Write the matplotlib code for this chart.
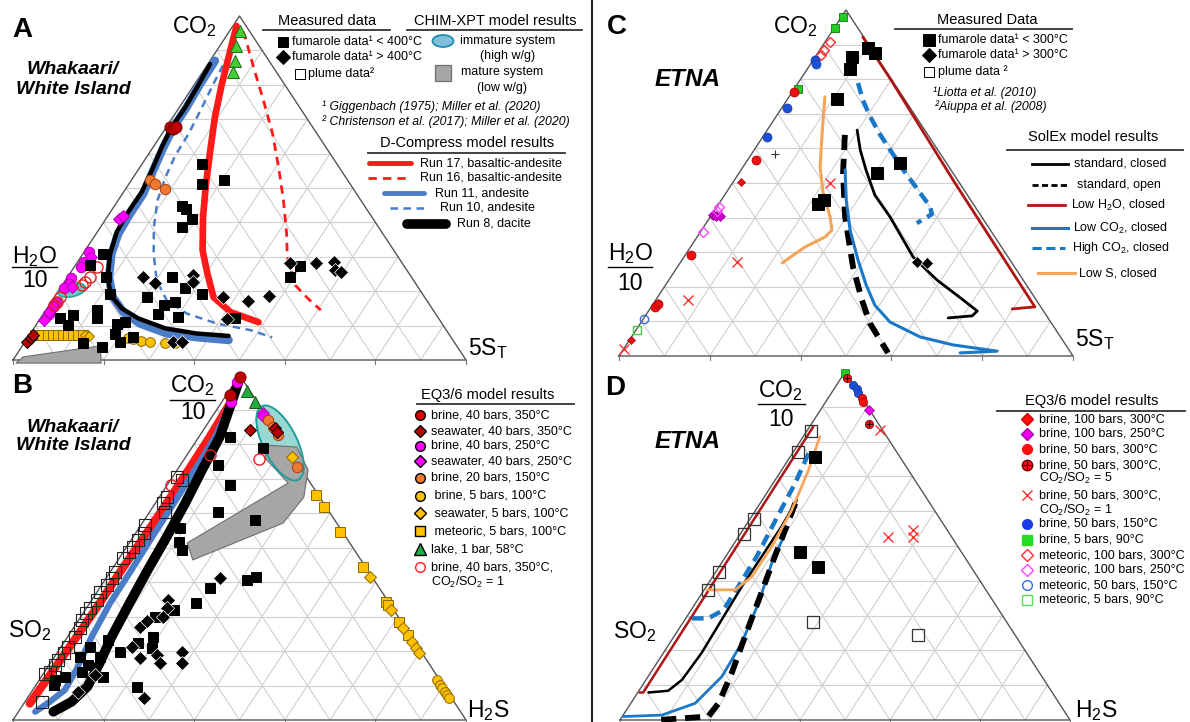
import numpy as np
import matplotlib.pyplot as plt
from matplotlib.patches import Polygon, Rectangle, Ellipse

plt.rcParams['font.family'] = ['Liberation Sans', 'DejaVu Sans']
plt.rcParams['mathtext.fontset'] = 'custom'
plt.rcParams['mathtext.rm'] = 'Liberation Sans'
plt.rcParams['mathtext.it'] = 'Liberation Sans:italic'
plt.rcParams['mathtext.bf'] = 'Liberation Sans:bold'
plt.rcParams['mathtext.default'] = 'regular'

# ---------- data: (top fraction, right fraction) ----------
# panel A: CO2 / (H2O/10) / 5ST
a_run17 = [(0.971, 0.008), (0.899, 0.030), (0.802, 0.060), (0.705, 0.093), (0.609, 0.131), (0.512, 0.170),
           (0.415, 0.212), (0.319, 0.259), (0.252, 0.303), (0.183, 0.351), (0.139, 0.411), (0.110, 0.487)]
a_run16 = [(0.955, 0.030), (0.936, 0.045), (0.849, 0.107), (0.754, 0.176), (0.658, 0.244), (0.559, 0.307),
           (0.464, 0.365), (0.368, 0.420), (0.299, 0.456), (0.217, 0.515), (0.180, 0.560), (0.145, 0.607)]
a_run11 = [(0.870, 0.011), (0.802, 0.012), (0.734, 0.016), (0.676, 0.016), (0.618, 0.023), (0.551, 0.034),
           (0.483, 0.046), (0.425, 0.046), (0.367, 0.049), (0.309, 0.063), (0.242, 0.091), (0.184, 0.128),
           (0.140, 0.173), (0.106, 0.227), (0.077, 0.301), (0.066, 0.373), (0.058, 0.447)]
a_run10 = [(0.923, 0.029), (0.879, 0.033), (0.812, 0.040), (0.734, 0.050), (0.657, 0.059), (0.594, 0.061),
           (0.531, 0.071), (0.464, 0.087), (0.386, 0.118), (0.309, 0.156), (0.232, 0.201), (0.174, 0.252),
           (0.135, 0.316), (0.106, 0.397), (0.087, 0.480), (0.066, 0.539)]
a_run8 = [(0.860, 0.005), (0.792, 0.010), (0.734, 0.013), (0.676, 0.012), (0.618, 0.019), (0.551, 0.031),
          (0.488, 0.040), (0.430, 0.039), (0.372, 0.043), (0.309, 0.060), (0.242, 0.088), (0.188, 0.122),
          (0.150, 0.165), (0.121, 0.216), (0.092, 0.290), (0.077, 0.367), (0.070, 0.441)]
a_fum_lo = [(0.570, 0.132), (0.512, 0.161), (0.522, 0.204), (0.449, 0.148), (0.440, 0.163), (0.411, 0.189),
            (0.386, 0.179), (0.309, 0.045), (0.275, 0.033), (0.242, 0.085), (0.242, 0.229), (0.193, 0.118),
            (0.208, 0.276), (0.193, 0.320), (0.184, 0.203), (0.159, 0.253), (0.169, 0.274), (0.135, 0.253),
            (0.126, 0.302), (0.145, 0.112), (0.121, 0.124), (0.130, 0.068), (0.121, 0.043), (0.101, 0.071),
            (0.106, 0.176), (0.111, 0.192), (0.077, 0.187), (0.068, 0.231), (0.053, 0.210), (0.048, 0.131),
            (0.039, 0.176), (0.121, 0.430), (0.241, 0.492), (0.272, 0.497)]
a_fum_hi = [(0.241, 0.167), (0.223, 0.203), (0.246, 0.275), (0.226, 0.285), (0.183, 0.371), (0.171, 0.434),
            (0.186, 0.473), (0.119, 0.414), (0.281, 0.472), (0.281, 0.528), (0.284, 0.566), (0.261, 0.580),
            (0.255, 0.596), (0.052, 0.328), (0.052, 0.348)]
a_lake = [(0.957, 0.022), (0.913, 0.036), (0.870, 0.054), (0.836, 0.067)]
a_brine350 = [(0.676, 0.009), (0.671, 0.018), (0.676, 0.022)]
a_brine150 = [(0.522, 0.041), (0.512, 0.057), (0.498, 0.087)]
a_brine250 = [(0.314, 0.010), (0.285, 0.014), (0.271, 0.014), (0.237, 0.010), (0.222, 0.012), (0.208, 0.009),
              (0.169, 0.010), (0.155, 0.010), (0.135, 0.011)]
a_sea250 = [(0.411, 0.029), (0.420, 0.033), (0.300, 0.023), (0.213, 0.023), (0.116, 0.010), (0.140, 0.010)]
a_brine350_r1 = [(0.271, 0.049), (0.242, 0.049), (0.227, 0.045), (0.217, 0.043), (0.184, 0.012),
                 (0.169, 0.012), (0.159, 0.012)]
a_sea350 = [(0.052, 0.006), (0.064, 0.007), (0.072, 0.009)]
a_meteoric100 = [(0.072, 0.013), (0.072, 0.028), (0.072, 0.041), (0.072, 0.052), (0.072, 0.064), (0.072, 0.075),
                 (0.072, 0.086), (0.072, 0.097), (0.072, 0.108), (0.072, 0.119)]
a_sea100 = [(0.072, 0.123), (0.070, 0.133)]
a_brine100 = [(0.064, 0.222), (0.061, 0.234), (0.055, 0.254), (0.052, 0.277), (0.049, 0.312), (0.049, 0.334)]
a_immature = (0.203, 0.028)
a_mature = [(-0.009, 0.011), (0.009, 0.018), (0.041, 0.172), (-0.009, 0.199)]

# panel B: CO2/10 / SO2 / H2S
b_run17 = [(0.995, 0.003), (0.918, 0.020), (0.821, 0.024), (0.725, 0.025), (0.628, 0.025), (0.531, 0.024),
           (0.435, 0.022), (0.338, 0.022), (0.242, 0.020), (0.145, 0.017), (0.048, 0.013)]
b_run11 = [(0.947, 0.017), (0.821, 0.036), (0.725, 0.039), (0.628, 0.041), (0.531, 0.042), (0.435, 0.044),
           (0.338, 0.045), (0.242, 0.053), (0.145, 0.067), (0.087, 0.071), (0.053, 0.055), (0.024, 0.037)]
b_run8 = [(0.976, 0.009), (0.821, 0.046), (0.725, 0.055), (0.628, 0.066), (0.531, 0.074), (0.435, 0.080),
          (0.338, 0.088), (0.242, 0.097), (0.164, 0.109), (0.097, 0.116), (0.053, 0.103), (0.024, 0.077)]
b_plume = [(0.705, 0.009), (0.696, 0.024), (0.647, 0.016), (0.628, 0.018), (0.604, 0.034), (0.565, 0.009),
           (0.541, 0.018), (0.522, 0.016), (0.502, 0.015), (0.488, 0.011), (0.469, 0.009), (0.430, 0.010),
           (0.411, 0.013), (0.391, 0.011), (0.372, 0.006), (0.348, 0.011), (0.324, 0.008), (0.309, 0.007),
           (0.290, 0.007), (0.266, 0.015), (0.242, 0.016), (0.213, 0.016), (0.193, 0.015), (0.174, 0.013),
           (0.159, 0.013), (0.140, 0.012), (0.133, 0.004), (0.053, 0.037)]
b_fum_lo = [(0.821, 0.069), (0.787, 0.159), (0.739, 0.084), (0.681, 0.139), (0.604, 0.151), (0.556, 0.091),
            (0.517, 0.107), (0.493, 0.126), (0.580, 0.244), (0.406, 0.313), (0.415, 0.330), (0.382, 0.244),
            (0.338, 0.236), (0.319, 0.195), (0.300, 0.163), (0.232, 0.094), (0.198, 0.137), (0.222, 0.166),
            (0.242, 0.189), (0.208, 0.202), (0.213, 0.064), (0.184, 0.056), (0.159, 0.087), (0.116, 0.035),
            (0.101, 0.039), (0.126, 0.052), (0.126, 0.136), (0.097, 0.225), (0.184, 0.100), (0.140, 0.082)]
b_fum_hi = [(0.411, 0.251), (0.348, 0.169), (0.324, 0.177), (0.300, 0.182), (0.271, 0.145), (0.288, 0.151),
            (0.213, 0.156), (0.179, 0.191), (0.188, 0.223), (0.164, 0.243), (0.198, 0.273), (0.164, 0.290),
            (0.063, 0.257), (0.082, 0.103), (0.130, 0.116)]
b_brine350 = [(0.995, 0.004), (0.942, 0.008)]
b_brine250 = [(0.981, 0.004), (0.923, 0.020)]
b_lake = [(0.955, 0.038), (0.921, 0.074)]
b_sea250 = [(0.889, 0.108), (0.880, 0.112)]
b_brine150 = [(0.870, 0.129), (0.850, 0.150), (0.826, 0.173), (0.734, 0.259)]
b_sea350 = [(0.841, 0.103), (0.845, 0.156), (0.835, 0.165)]
b_brine350_r1 = [(0.768, 0.051), (0.756, 0.164), (0.681, 0.008)]
b_meteoric100 = [(0.652, 0.342), (0.617, 0.377), (0.545, 0.449), (0.443, 0.551), (0.342, 0.652),
                 (0.333, 0.661), (0.284, 0.710), (0.246, 0.748)]
b_sea100 = [(0.763, 0.234), (0.414, 0.580), (0.319, 0.675), (0.267, 0.727), (0.226, 0.768), (0.209, 0.785),
            (0.194, 0.800)]
b_brine100 = [(0.116, 0.878), (0.101, 0.893), (0.093, 0.901), (0.081, 0.913), (0.072, 0.922), (0.064, 0.930)]
b_immature = (0.803, 0.188)
b_mature = [(0.797, 0.158), (0.791, 0.231), (0.725, 0.289), (0.646, 0.319), (0.571, 0.311), (0.464, 0.165),
            (0.513, 0.128), (0.687, 0.264), (0.759, 0.177)]

# panel C: CO2 / (H2O/10) / 5ST
c_std_closed = [(0.653, 0.198), (0.595, 0.234), (0.538, 0.275), (0.465, 0.331), (0.402, 0.396), (0.286, 0.505),
                (0.220, 0.590), (0.162, 0.677), (0.130, 0.724), (0.116, 0.720), (0.110, 0.670)]
c_std_open = [(0.639, 0.178), (0.529, 0.229), (0.402, 0.297), (0.257, 0.387), (0.162, 0.454), (0.095, 0.505),
              (0.009, 0.588)]
c_low_h2o = [(0.922, 0.076), (0.798, 0.200), (0.500, 0.490), (0.142, 0.845), (0.136, 0.798)]
c_low_co2 = [(0.538, 0.229), (0.451, 0.275), (0.364, 0.327), (0.277, 0.388), (0.205, 0.442), (0.147, 0.490),
             (0.098, 0.548), (0.055, 0.636), (0.032, 0.720), (0.014, 0.826), (0.009, 0.747)]
c_high_co2 = [(0.789, 0.132), (0.740, 0.167), (0.691, 0.208), (0.639, 0.256), (0.595, 0.300), (0.538, 0.357),
              (0.471, 0.428), (0.431, 0.470), (0.410, 0.484), (0.384, 0.464)]
c_low_s = [(0.749, 0.079), (0.645, 0.125), (0.546, 0.170), (0.471, 0.214), (0.402, 0.264), (0.364, 0.287),
           (0.344, 0.282), (0.315, 0.252), (0.269, 0.225)]
c_fum_lo = [(0.890, 0.103), (0.876, 0.126), (0.864, 0.081), (0.829, 0.094), (0.743, 0.109), (0.529, 0.304),
            (0.558, 0.340), (0.439, 0.219), (0.451, 0.226)]
c_fum_hi = [(0.272, 0.520), (0.269, 0.544)]
c_brine90 = [(0.981, 0.002), (0.947, 0.003), (0.771, 0.008)]
c_met300 = [(0.908, 0.011), (0.884, 0.010), (0.870, 0.010)]
c_brine150 = [(0.855, 0.004), (0.844, 0.012), (0.716, 0.013), (0.632, 0.011)]
c_brine50_300 = [(0.762, 0.004), (0.566, 0.019), (0.292, 0.012), (0.143, 0.008), (0.150, 0.012)]
c_brine100_300 = [(0.504, 0.017), (0.154, 0.008), (0.046, 0.003)]
c_brine100_250 = [(0.408, 0.004), (0.405, 0.011), (0.405, 0.020)]
c_met250 = [(0.432, 0.004), (0.420, 0.006), (0.359, 0.005)]
c_met150 = [(0.106, 0.003)]
c_met90 = [(0.075, 0.002)]
c_ratio1 = [(0.019, 0.002), (0.273, 0.123), (0.162, 0.072), (0.499, 0.215)]
c_plus = [(0.584, 0.052)]

# panel D: CO2/10 / SO2 / H2S
d_low_h2o = [(0.843, 0.008), (0.079, 0.012), (0.079, 0.004)]
d_std_closed = [(0.632, 0.077), (0.556, 0.081), (0.469, 0.080), (0.383, 0.079), (0.287, 0.082), (0.192, 0.085),
                (0.115, 0.080), (0.084, 0.065), (0.079, 0.024)]
d_low_co2 = [(0.536, 0.099), (0.450, 0.112), (0.335, 0.140), (0.220, 0.160), (0.125, 0.164), (0.048, 0.143),
             (0.014, 0.086), (0.010, 0.002)]
d_std_open = [(0.623, 0.078), (0.556, 0.092), (0.460, 0.111), (0.354, 0.134), (0.239, 0.158), (0.134, 0.181),
              (0.048, 0.195), (0.010, 0.191), (0.000, 0.085)]
d_high_co2 = [(0.766, 0.036), (0.680, 0.049), (0.580, 0.058), (0.469, 0.069), (0.383, 0.071), (0.316, 0.072),
              (0.292, 0.050), (0.292, 0.010)]
d_low_s = [(0.814, 0.037), (0.718, 0.060), (0.603, 0.080), (0.498, 0.088), (0.412, 0.087), (0.374, 0.069),
           (0.374, 0.006)]
d_plume = [(0.831, 0.010), (0.771, 0.010), (0.577, 0.010), (0.534, 0.008), (0.426, 0.008), (0.374, 0.008),
           (0.283, 0.288), (0.244, 0.540)]
d_fum_lo = [(0.755, 0.056), (0.484, 0.158), (0.441, 0.220)]
d_brine90 = [(0.996, 0.002)]
d_ratio5 = [(0.982, 0.014), (0.852, 0.127)]
d_brine150 = [(0.963, 0.037), (0.950, 0.051), (0.939, 0.060)]
d_brine50_300 = [(0.924, 0.075), (0.913, 0.084)]
d_brine100_250 = [(0.891, 0.107)]
d_ratio1 = [(0.833, 0.161), (0.526, 0.333), (0.546, 0.378), (0.526, 0.388)]

RED = '#ff1a1a'
BLUE = '#4a7cc8'
DRED = '#b80000'
MAG = '#ff00ff'
ORA = '#f07830'
YEL = '#ffc000'
SBLUE = '#1a78c8'
SORA = '#f5a55a'
SDRED = '#b01515'
FS = 9.0
FH = 10.5

W, H = 1190, 722
fig = plt.figure(figsize=(W / 100, H / 100), dpi=100)
bg = fig.add_axes([0, 0, 1, 1])
bg.set_xlim(0, W)
bg.set_ylim(H, 0)
bg.axis('off')


def tern(top, right):
    top = np.asarray(top, dtype=float)
    right = np.asarray(right, dtype=float)
    return right + top / 2, top


def tern_axes(x0, x1, ytop, ybot):
    ax = fig.add_axes([x0 / W, 1 - ybot / H, (x1 - x0) / W, (ybot - ytop) / H])
    ax.set_xlim(0, 1)
    ax.set_ylim(0, 1)
    ax.axis('off')
    ax.pw = x1 - x0
    ax.ph = ybot - ytop
    for k in range(1, 10):
        f = k / 10
        kw = dict(color='#cfcfcf', lw=0.8, zorder=0)
        ax.plot([f / 2, 1 - f / 2], [f, f], **kw)
        ax.plot([f, (1 + f) / 2], [0, 1 - f], **kw)
        ax.plot([1 - f, (1 - f) / 2], [0, 1 - f], **kw)
    ax.plot([0, 0.5, 1, 0], [0, 1, 0, 0], color='#555555', lw=1.0, zorder=1, clip_on=False)
    for f in [0, 0.2, 0.4, 0.6, 0.8, 1.0]:
        ax.plot([f, f], [0, -4 / ax.ph], color='#777777', lw=0.8, clip_on=False)
    return ax


def pts(ax, data, marker, ms, fc, ec='black', mew=0.7, z=6):
    d = np.array(data, dtype=float)
    x, y = tern(d[:, 0], d[:, 1])
    ax.plot(x, y, ls='none', marker=marker, ms=ms, mfc=fc, mec=ec, mew=mew, zorder=z, clip_on=False)


def curve(ax, data, color, lw, dashes=None, z=3):
    d = np.array(data, dtype=float)
    x, y = tern(d[:, 0], d[:, 1])
    ln, = ax.plot(x, y, color=color, lw=lw, solid_capstyle='round', solid_joinstyle='round',
                  zorder=z, clip_on=False)
    if dashes:
        ln.set_dashes(dashes)
        ln.set_dash_capstyle('butt')


def ellipse(ax, centre, length, width, angle, fc, ec, lw=1.2, z=2):
    x0, y0 = tern(centre[0], centre[1])
    t = np.linspace(0, 2 * np.pi, 80)
    th = np.deg2rad(angle)
    ex = length / 2 * np.cos(t)
    ey = width / 2 * np.sin(t)
    px = ex * np.cos(th) - ey * np.sin(th)
    py = ex * np.sin(th) + ey * np.cos(th)
    xy = np.column_stack([x0 + px / ax.pw, y0 + py / ax.ph])
    if fc is not None:
        ax.add_patch(Polygon(xy, closed=True, fc=fc, ec='none', zorder=z, clip_on=False))
    ax.add_patch(Polygon(xy, closed=True, fc='none', ec=ec, lw=lw, zorder=z + 0.5, clip_on=False))


def region(ax, data, z=2):
    d = np.array(data, dtype=float)
    x, y = tern(d[:, 0], d[:, 1])
    ax.add_patch(Polygon(np.column_stack([x, y]), closed=True, fc='#a6a6a6', ec='#6e6e6e', lw=0.8,
                         zorder=z, clip_on=False))


def lbl(x, y, s, fs=FS, ha='left', va='center', **kw):
    bg.text(x, y, s, fontsize=fs, ha=ha, va=va, **kw)


def header(x, y, s, x0, x1, yl, fs=FH):
    lbl(x, y, s, fs=fs, ha='center')
    bg.plot([x0, x1], [yl, yl], color='#333333', lw=1.3)


def key(x, y, marker, ms, fc, ec='black', mew=0.7):
    bg.plot([x], [y], ls='none', marker=marker, ms=ms, mfc=fc, mec=ec, mew=mew)


def frac(x0, x1, yline, top, ybase_top, ybase_bot, fs=16.5):
    lbl(x0, ybase_top, top, fs=fs, va='baseline')
    bg.plot([x0, x1], [yline, yline], color='black', lw=1.0)
    lbl((x0 + x1) / 2, ybase_bot, '10', fs=fs, ha='center', va='baseline')


# ---------------- panel A ----------------
axA = tern_axes(13, 466, 16, 360)
region(axA, a_mature)
ellipse(axA, a_immature, 28, 13, 12, '#6ccbc0', '#2aa79a')
curve(axA, a_run16, RED, 2.0, dashes=(3, 2.2))
curve(axA, a_run10, BLUE, 1.8, dashes=(3, 2.2))
curve(axA, a_run11, BLUE, 6.0)
curve(axA, a_run8, 'black', 3.2, z=3.5)
curve(axA, a_run17, RED, 4.8)
pts(axA, a_meteoric100, 's', 6.5, YEL, '#8a6a00')
pts(axA, a_sea100, 'D', 5.5, YEL, '#8a6a00')
pts(axA, a_brine100, 'o', 7, YEL, '#8a6a00')
pts(axA, a_sea350, 'D', 6, DRED)
pts(axA, a_brine250, 'o', 7.5, MAG, '#aa00aa')
pts(axA, a_sea250, 'D', 6.5, MAG, '#aa00aa')
pts(axA, a_brine350_r1, 'o', 8, 'none', '#e02020', mew=1.0)
pts(axA, a_brine350, 'o', 8, '#c00000', '#700000')
pts(axA, a_brine150, 'o', 7.5, ORA, '#a04010')
pts(axA, a_lake, '^', 8, '#44cc33', '#1a6e1a')
pts(axA, a_fum_lo, 's', 7.2, 'black')
pts(axA, a_fum_hi, 'D', 6.8, 'black', 'white', mew=0.5)

lbl(12, 30, 'A', fs=20, weight='bold')
lbl(172, 33, 'CO$_2$', fs=16.5, va='baseline')
lbl(73, 70, 'Whakaari/', fs=14, ha='center', weight='bold', style='italic')
lbl(73, 90, 'White Island', fs=14, ha='center', weight='bold', style='italic')
frac(12, 57, 267, 'H$_2$O', 263, 287)
lbl(468, 355, '5S$_T$', fs=16.5, va='baseline')

header(327, 21, 'Measured data', 263, 390, 30)
header(495, 21, 'CHIM-XPT model results', 407, 582, 30)
key(283, 42, 's', 7, 'black')
lbl(292, 42, 'fumarole data¹ < 400°C')
key(283, 57, 'D', 7, 'black')
lbl(292, 57, 'fumarole data¹ > 400°C')
key(300, 74, 's', 7, 'white')
lbl(308, 74, 'plume data²')
bg.add_patch(Ellipse((443, 41), 21, 12, fc='#7fbedc', ec='#1f8fb0', lw=1.3))
lbl(508, 41, 'immature system', ha='center')
lbl(508, 56, '(high w/g)', ha='center')
bg.add_patch(Rectangle((435, 65), 16, 16, fc='#a6a6a6', ec='#6e6e6e', lw=0.9))
lbl(502, 72, 'mature system', ha='center')
lbl(502, 88, '(low w/g)', ha='center')
lbl(322, 107, '¹ Giggenbach (1975); Miller et al. (2020)', fs=8.8, style='italic')
lbl(322, 122, '² Christenson et al. (2017); Miller et al. (2020)', fs=8.8, style='italic')
header(467, 143, 'D-Compress model results', 368, 565, 153)
bg.plot([369, 411], [163, 163], color=RED, lw=3.5, solid_capstyle='round')
lbl(420, 163, 'Run 17, basaltic-andesite')
ln, = bg.plot([368, 410], [178, 178], color=RED, lw=2.0)
ln.set_dashes((3, 2.2))
lbl(420, 178, 'Run 16, basaltic-andesite')
bg.plot([384, 424], [193, 193], color=BLUE, lw=3.5, solid_capstyle='round')
lbl(435, 193, 'Run 11, andesite')
ln, = bg.plot([390, 428], [208, 208], color=BLUE, lw=1.8)
ln.set_dashes((3, 2.2))
lbl(440, 208, 'Run 10, andesite')
bg.plot([407, 446], [224, 224], color='black', lw=7, solid_capstyle='round')
lbl(457, 224, 'Run 8, dacite')

# ---------------- panel B ----------------
axB = tern_axes(13, 466, 375, 720)
ellipse(axB, b_immature, 82, 34, -63.7, '#9ad8d4', '#1e9e9e', lw=1.4)
region(axB, b_mature, z=2.2)
curve(axB, b_run17, RED, 6.0)
curve(axB, b_run11, BLUE, 4.5, z=3.2)
curve(axB, b_run8, 'black', 7.0, z=3.4)
pts(axB, b_plume, 's', 8.5, 'none', '#222222', mew=0.8)
pts(axB, b_fum_lo, 's', 7.2, 'black')
pts(axB, b_fum_hi, 'D', 6.8, 'black', 'white', mew=0.5)
pts(axB, b_meteoric100, 's', 7, YEL, '#8a6a00')
pts(axB, b_sea100, 'D', 6, YEL, '#8a6a00')
pts(axB, b_brine100, 'o', 7, YEL, '#8a6a00')
pts(axB, b_lake, '^', 8, '#22aa44', '#145a14')
pts(axB, b_sea250, 'D', 6, MAG, '#aa00aa')
pts(axB, b_brine150, 'o', 7.5, ORA, '#a04010')
pts(axB, b_sea350, 'D', 6.5, DRED)
pts(axB, b_brine350_r1, 'o', 8, 'none', '#e02020', mew=1.0)
pts(axB, b_brine250, 'o', 7.5, MAG, '#aa00aa')
pts(axB, b_brine350, 'o', 8, '#c00000', '#700000')

lbl(12, 386, 'B', fs=20, weight='bold')
frac(170, 215, 400, 'CO$_2$', 392, 419)
lbl(73, 427, 'Whakaari/', fs=14, ha='center', weight='bold', style='italic')
lbl(73, 445, 'White Island', fs=14, ha='center', weight='bold', style='italic')
lbl(8, 637, 'SO$_2$', fs=16.5, va='baseline')
lbl(467, 717, 'H$_2$S', fs=16.5, va='baseline')

header(488, 395, 'EQ3/6 model results', 417, 574, 404)
b_keys = [('o', 7, '#e00000', 'black', 'brine, 40 bars, 350°C', 415),
          ('D', 6.5, DRED, 'black', 'seawater, 40 bars, 350°C', 431),
          ('o', 7, MAG, 'black', 'brine, 40 bars, 250°C', 446),
          ('D', 6.5, MAG, 'black', 'seawater, 40 bars, 250°C', 461),
          ('o', 7, ORA, 'black', 'brine, 20 bars, 150°C', 478),
          ('o', 7, YEL, 'black', ' brine, 5 bars, 100°C', 496),
          ('D', 6.5, YEL, 'black', ' seawater, 5 bars, 100°C', 513),
          ('s', 7, YEL, 'black', ' meteoric, 5 bars, 100°C', 531),
          ('^', 8, '#22aa44', 'black', 'lake, 1 bar, 58°C', 549),
          ('o', 7, 'none', '#ff2020', 'brine, 40 bars, 350°C,', 567)]
for m, ms, fc, ec, txt, y in b_keys:
    key(420, y, m, ms, fc, ec, mew=1.0)
    lbl(431, y, txt)
lbl(431, 582, 'CO$_2$/SO$_2$ = 1')

# ---------------- panel C ----------------
axC = tern_axes(619, 1073, 10, 356)
curve(axC, c_low_h2o, SDRED, 2.0)
curve(axC, c_std_closed, 'black', 2.0)
curve(axC, c_std_open, 'black', 4.2, dashes=(2.6, 1.5))
curve(axC, c_low_co2, SBLUE, 2.2)
curve(axC, c_high_co2, SBLUE, 3.2, dashes=(2.6, 1.5))
curve(axC, c_low_s, SORA, 2.2)
pts(axC, c_fum_lo, 's', 9, 'black')
pts(axC, c_fum_hi, 'D', 6.5, 'black', 'white', mew=0.5)
pts(axC, c_brine90, 's', 6, '#22cc22', '#117711', mew=0.6)
pts(axC, c_met300, 'D', 5.5, 'none', '#ff3030', mew=1.0)
pts(axC, c_brine150, 'o', 6.5, '#1a4fd8', '#1a3a9a', mew=0.5)
pts(axC, c_brine50_300, 'o', 6.5, '#ee1010', '#aa0000', mew=0.5)
pts(axC, c_brine100_300, 'D', 4.5, '#ee1010', '#aa0000', mew=0.5)
pts(axC, c_brine100_250, 'D', 5, '#cc00cc', '#880088', mew=0.5)
pts(axC, c_met250, 'D', 5, 'none', '#ff44ff', mew=1.0)
pts(axC, c_met150, 'o', 6, 'none', '#3a6ae0', mew=1.0)
pts(axC, c_met90, 's', 6, 'none', '#44cc44', mew=1.0)
pts(axC, c_ratio1, 'x', 7, 'none', '#ff3030', mew=1.0)
pts(axC, c_plus, '+', 6, 'none', '#333333', mew=0.8)

lbl(607, 27, 'C', fs=20, weight='bold')
lbl(773, 33, 'CO$_2$', fs=16.5, va='baseline')
lbl(688, 80, 'ETNA', fs=17.5, ha='center', weight='bold', style='italic')
frac(608, 652, 267, 'H$_2$O', 260, 290)
lbl(1075, 346, '5S$_T$', fs=16.5, va='baseline')

header(987, 20, 'Measured Data', 895, 1072, 29)
key(929, 40, 's', 8, 'black')
lbl(938, 40, 'fumarole data¹ < 300°C')
key(929, 55, 'D', 7.5, 'black')
lbl(938, 55, 'fumarole data¹ > 300°C')
key(929, 72, 's', 7.5, 'white')
lbl(938, 72, 'plume data ²')
lbl(933, 93, '¹Liotta et al. (2010)', fs=8.8, style='italic')
lbl(935, 107, '²Aiuppa et al. (2008)', fs=8.8, style='italic')
header(1093, 137, 'SolEx model results', 1007, 1183, 150)
c_keys = [('black', 2.0, None, 1032, 1068, 164, 1074, 'standard, closed'),
          ('black', 2.0, (2.2, 1.2), 1032, 1068, 185, 1077, 'standard, open'),
          (SDRED, 2.0, None, 1028, 1065, 205, 1071, 'Low H$_2$O, closed'),
          (SBLUE, 2.2, None, 1032, 1068, 228, 1073, 'Low CO$_2$, closed'),
          (SBLUE, 2.2, (3, 1.5), 1032, 1065, 248, 1072, 'High CO$_2$, closed'),
          (SORA, 2.2, None, 1038, 1075, 273, 1079, 'Low S, closed')]
for col, lw, dash, x0, x1, y, xt, txt in c_keys:
    ln, = bg.plot([x0, x1], [y, y], color=col, lw=lw)
    if dash:
        ln.set_dashes(dash)
    lbl(xt, y, txt)

# ---------------- panel D ----------------
axD = tern_axes(620, 1070, 372, 720)
curve(axD, d_low_h2o, SDRED, 1.8)
curve(axD, d_std_closed, 'black', 1.8)
curve(axD, d_low_co2, SBLUE, 2.0)
curve(axD, d_std_open, 'black', 4.2, dashes=(2.6, 1.5))
curve(axD, d_high_co2, SBLUE, 3.2, dashes=(2.6, 1.5))
curve(axD, d_low_s, SORA, 2.0)
pts(axD, d_plume, 's', 8, 'none', '#333333', mew=0.9)
pts(axD, d_fum_lo, 's', 8, 'black')
pts(axD, d_brine90, 's', 5.5, '#22cc22', '#117711', mew=0.5)
pts(axD, d_brine150, 'o', 6, '#1a4fd8', '#1a3a9a', mew=0.5)
pts(axD, d_brine50_300, 'o', 6, '#ee1010', '#aa0000', mew=0.5)
pts(axD, d_brine100_250, 'D', 5.5, '#ee00ee', '#880088', mew=0.5)
pts(axD, d_ratio5, 'o', 6, '#ee1010', '#660000', mew=0.5)
pts(axD, d_ratio5, '+', 5, 'none', 'black', mew=0.7, z=7)
pts(axD, d_ratio1, 'x', 7, 'none', '#ff3030', mew=1.0)

lbl(605, 388, 'D', fs=20, weight='bold')
frac(758, 805, 404, 'CO$_2$', 397, 426)
lbl(688, 442, 'ETNA', fs=17.5, ha='center', weight='bold', style='italic')
lbl(613, 638, 'SO$_2$', fs=16.5, va='baseline')
lbl(1075, 717, 'H$_2$S', fs=16.5, va='baseline')

header(1092, 401, 'EQ3/6 model results', 997, 1185, 411)
d_keys = [('D', 6.5, '#ff1010', '#cc0000', 'brine, 100 bars, 300°C', 419),
          ('D', 6.5, '#ee00ee', '#aa00aa', 'brine, 100 bars, 250°C', 434),
          ('o', 7, '#ff1010', '#ff1010', 'brine, 50 bars, 300°C', 449),
          ('o', 7.5, '#ff1010', '#660000', 'brine, 50 bars, 300°C,', 465),
          ('x', 7, 'none', '#ff3030', 'brine, 50 bars, 300°C,', 495),
          ('o', 7, '#1a3ae8', '#1a3ae8', 'brine, 50 bars, 150°C', 524),
          ('s', 7, '#22dd22', '#22dd22', 'brine, 5 bars, 90°C', 540),
          ('D', 6.5, 'none', '#ff3030', 'meteoric, 100 bars, 300°C', 555),
          ('D', 6.5, 'none', '#ff44ff', 'meteoric, 100 bars, 250°C', 570),
          ('o', 7, 'none', '#3a6ae0', 'meteoric, 50 bars, 150°C', 585),
          ('s', 7, 'none', '#55dd55', 'meteoric, 5 bars, 90°C', 600)]
for m, ms, fc, ec, txt, y in d_keys:
    key(1027, y, m, ms, fc, ec, mew=1.0)
    lbl(1039, y, txt)
key(1027, 465, '+', 6, 'none', 'black', mew=0.8)
lbl(1039, 478, 'CO$_2$/SO$_2$ = 5')
lbl(1039, 510, 'CO$_2$/SO$_2$ = 1')

bg.plot([592, 592], [0, H], color='#222222', lw=1.5)

fig.savefig('out.png', dpi=100)
